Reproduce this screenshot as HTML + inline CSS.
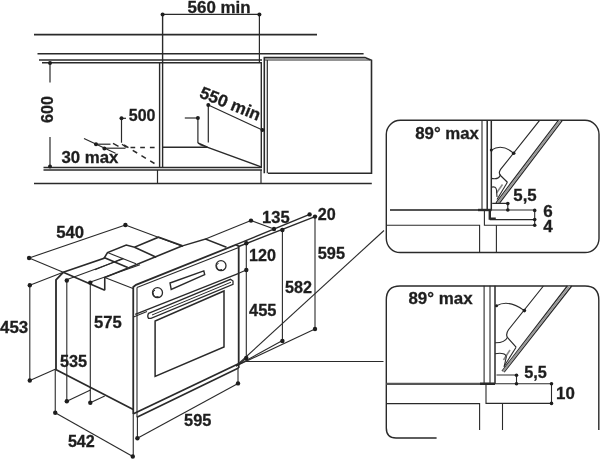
<!DOCTYPE html>
<html><head><meta charset="utf-8">
<style>
html,body{margin:0;padding:0;background:#fff;width:600px;height:459px;overflow:hidden}
svg{display:block;will-change:transform}
text{font-family:"Liberation Sans",sans-serif;font-weight:bold;fill:#1e1e1e;stroke:#1e1e1e;stroke-width:0.3}
</style></head><body>
<svg width="600" height="459" viewBox="0 0 600 459">
<g fill="none" stroke="#2a2a2a" stroke-width="1.2" stroke-linecap="butt">
<!-- ===== TOP SECTION ===== -->
<line x1="34" y1="34.6" x2="317" y2="34.6" stroke-width="1.6"/>
<line x1="37.5" y1="53.7" x2="363.6" y2="53.7" stroke-width="1.6"/>
<line x1="39" y1="60" x2="262" y2="60" stroke-width="1.4"/>
<line x1="42" y1="62.8" x2="262" y2="62.8" stroke-width="1.4"/>
<line x1="43.5" y1="167.5" x2="262" y2="167.5" stroke-width="1.4"/>
<line x1="43.5" y1="170" x2="262" y2="170" stroke-width="1.4"/>
<line x1="34" y1="183.5" x2="371.8" y2="183.5" stroke-width="1.6"/>
<line x1="157.5" y1="170" x2="157.5" y2="183.5"/>
<line x1="261" y1="170" x2="261" y2="183.5"/>
<!-- dividers -->
<line x1="159.6" y1="62.8" x2="159.6" y2="167.5" stroke-width="1.4"/>
<line x1="162.6" y1="14.4" x2="162.6" y2="167.5" stroke-width="1.4"/>
<line x1="261.3" y1="62.8" x2="261.3" y2="167.5" stroke-width="1.4"/>
<line x1="259.4" y1="14.4" x2="259.4" y2="62.8"/>
<!-- 560 min dim -->
<line x1="162.6" y1="14.4" x2="259.4" y2="14.4"/>
<!-- right door panel -->
<path d="M264.3 173.3 V57.6 H365 L371.5 60.3 V173.3 H268" stroke-width="1.6"/>
<line x1="267.3" y1="60" x2="267.3" y2="173.3" stroke-width="1.2"/>
<line x1="264.3" y1="60" x2="370" y2="60" stroke-width="1.2"/>
<!-- 600 dim -->
<line x1="50" y1="63" x2="50" y2="82.5"/>
<line x1="50" y1="137" x2="50" y2="166.5"/>
<!-- 500 -->
<line x1="121.5" y1="118.3" x2="126" y2="118.3"/>
<line x1="121.5" y1="118.3" x2="121.5" y2="142.7"/>
<line x1="84" y1="138.5" x2="115.5" y2="153.3"/>
<line x1="96" y1="144.2" x2="110.5" y2="144.2"/>
<line x1="104.4" y1="148.2" x2="125.5" y2="148.2"/>
<line x1="130.5" y1="147.5" x2="155.5" y2="147.5" stroke-dasharray="4.7 5" stroke-width="1.5"/>
<path d="M113 143.3 L118.5 146.3 M122 144.3 L126.5 147.5" stroke-width="1.4"/>
<line x1="124" y1="145" x2="154.5" y2="163.5" stroke-dasharray="5.2 5" stroke-width="1.5"/>
<line x1="162.6" y1="147.2" x2="207.5" y2="147.2" stroke-width="1.4"/>
<!-- 550 min -->
<line x1="208.3" y1="105" x2="262.4" y2="130"/>
<line x1="208.3" y1="105" x2="208.3" y2="142.5"/>
<line x1="184.8" y1="118" x2="197.9" y2="118"/>
<line x1="197.9" y1="118" x2="197.9" y2="143"/>
<path d="M197.9 143 L207.5 147.2 M199.5 144.3 L261 166.8" stroke-width="1.4"/>
</g>
<g fill="#1e1e1e">
<circle cx="162.6" cy="14.4" r="2"/><circle cx="259.4" cy="14.4" r="2"/>
<circle cx="50" cy="63" r="2"/><circle cx="50" cy="166.5" r="2"/>
<circle cx="121.5" cy="118.3" r="2"/>
<circle cx="96" cy="144.2" r="2"/><circle cx="104.4" cy="148.4" r="2"/>
<circle cx="208.3" cy="105" r="2"/><circle cx="262.4" cy="130" r="2"/>
<circle cx="197.9" cy="118" r="2"/>
</g>
<text x="187.6" y="12.7" font-size="17" textLength="63" lengthAdjust="spacingAndGlyphs">560 min</text>
<text x="128.8" y="120.6" font-size="17" textLength="26.7" lengthAdjust="spacingAndGlyphs">500</text>
<text x="61.4" y="162.6" font-size="17" textLength="57" lengthAdjust="spacingAndGlyphs">30 max</text>
<text transform="translate(52.6,123) rotate(-90)" font-size="17.2" textLength="27" lengthAdjust="spacingAndGlyphs">600</text>
<text transform="translate(198.5,97) rotate(22)" font-size="17" textLength="64" lengthAdjust="spacingAndGlyphs">550 min</text>

<!-- ===== INSET 1 ===== -->
<g fill="none" stroke="#2a2a2a" stroke-width="1.4">
<rect x="386.3" y="120.3" width="212.7" height="132.2" rx="14" ry="14"/>
</g>

<g fill="none" stroke="#2a2a2a" stroke-width="1.1">
<!-- walls -->
<line x1="482" y1="120.3" x2="482" y2="210"/>
<line x1="487.2" y1="120.3" x2="487.2" y2="210" stroke-width="1.5"/>
<line x1="491.3" y1="120.3" x2="491.3" y2="210" stroke-width="1.5"/>
<!-- door -->
<path d="M539.6 120.3 L500.4 169.7 Q498 173.5 501 176 L507.4 182.3" stroke-width="1.2"/>
<path d="M558.4 120.3 L496 202.8 M562.3 120.3 L499.5 203 " stroke-width="1.3"/>
<path d="M560.3 120.3 L497.8 202.9" stroke="#999" stroke-width="2"/>
<path d="M491.3 150.1 Q502 143 513.7 153.3"/>
<path d="M491.3 178.4 Q499 180 500.5 174.5"/>
<path d="M507.4 182.3 L497 199.5" stroke-width="1.1"/><path d="M502.5 184.5 L496.5 193" stroke="#888" stroke-width="1.6"/>
<path d="M491.3 187.2 Q496 186 496.5 190 L497 197"/>
<!-- base -->
<line x1="390" y1="210" x2="491.6" y2="210" stroke-width="2.2" stroke="#555"/><line x1="478" y1="210" x2="491.6" y2="210" stroke-width="2.4"/>
<line x1="491.6" y1="210" x2="535.3" y2="210"/>
<path d="M489.8 210 V218.6 H495.8" stroke-width="2.4"/>
<line x1="489.8" y1="219.6" x2="535.3" y2="219.6"/>
<path d="M484.4 210 V225.3 H535.3"/>
<path d="M386.3 225.3 H479.6 V252.5"/>
<line x1="496.4" y1="225.3" x2="496.4" y2="252.5"/>
<path d="M492.2 203.4 H507.8 V210"/>
<line x1="534.7" y1="210" x2="534.7" y2="225.3"/>
</g>
<g fill="#1e1e1e">
<circle cx="513.7" cy="153.3" r="1.8"/><circle cx="491.3" cy="150.1" r="1.5"/>
<circle cx="507.8" cy="203.6" r="1.8"/><circle cx="507.8" cy="210" r="1.8"/>
<circle cx="534.7" cy="210.4" r="1.8"/><circle cx="534.7" cy="219.6" r="1.8"/><circle cx="534.7" cy="225.3" r="1.8"/>
</g>
<text x="415.2" y="139.3" font-size="17" textLength="63.8" lengthAdjust="spacingAndGlyphs">89° max</text>
<text x="513.3" y="200.8" font-size="17" textLength="23.4" lengthAdjust="spacingAndGlyphs">5,5</text>
<text x="543.3" y="216.5" font-size="17">6</text>
<text x="543.3" y="231.5" font-size="17">4</text>

<!-- ===== INSET 2 ===== -->
<g fill="none" stroke="#2a2a2a" stroke-width="1.4">
<path d="M386.3 300 Q386.3 286 400 286 H585 Q598.8 286 598.8 300 V430"/>
<path d="M386.3 300 V428 Q386.3 438 396 438 H436.6"/>
</g>

<g fill="none" stroke="#2a2a2a" stroke-width="1.1">
<line x1="484.1" y1="285.7" x2="484.1" y2="383.8"/>
<line x1="490" y1="285.7" x2="490" y2="383.8"/>
<line x1="495" y1="285.7" x2="495" y2="383.8" stroke-width="1.5"/>
<path d="M543.4 286 L508.5 329.75 Q505.5 334 507.4 337.4 L516.1 347.2" stroke-width="1.2"/>
<path d="M567.3 286 L502 371.1 M571.7 286 L504.1 372.2" stroke-width="1.3"/>
<path d="M569.5 286 L503 371.6" stroke="#999" stroke-width="2"/>
<path d="M496.5 305.8 Q508.5 299 524.4 310.6"/>
<path d="M495 342.8 Q505 343 507.4 337.4"/>
<path d="M516.1 347.2 L504 366.5" stroke-width="1.1"/><path d="M510 350 L503.5 360" stroke="#888" stroke-width="1.6"/>
<path d="M495 353.7 Q506 352 506.3 357 L504.1 366.8"/>
<line x1="386.3" y1="383.8" x2="495" y2="383.8" stroke-width="2.2" stroke="#555"/><line x1="480" y1="383.8" x2="495" y2="383.8" stroke-width="2.4"/>
<line x1="495" y1="383.8" x2="551.5" y2="383.8"/>
<path d="M496.5 375 H516.5 V383.8"/>
<path d="M486 383.8 V403.4 H551.5"/>
<line x1="551.5" y1="383.8" x2="551.5" y2="403.4"/>
<path d="M386.3 403.6 H479.6 V430"/>
<line x1="502.5" y1="403.4" x2="502.5" y2="430"/>
</g>
<g fill="#1e1e1e">
<circle cx="524.4" cy="310.6" r="1.8"/><circle cx="496.5" cy="305.8" r="1.5"/>
<circle cx="516.5" cy="375.2" r="1.8"/><circle cx="516.5" cy="383.8" r="1.8"/>
<circle cx="551.5" cy="383.8" r="1.8"/><circle cx="551.5" cy="403.4" r="1.8"/>
</g>
<text x="408.4" y="304.4" font-size="17" textLength="64.2" lengthAdjust="spacingAndGlyphs">89° max</text>
<text x="524.2" y="378.2" font-size="17" textLength="22.6" lengthAdjust="spacingAndGlyphs">5,5</text>
<text x="556" y="398.5" font-size="17" textLength="18.8" lengthAdjust="spacingAndGlyphs">10</text>


<!-- ===== OVEN ===== -->
<g fill="none" stroke="#2a2a2a" stroke-width="1.1">
<!-- 540 dim -->
<line x1="29.1" y1="258" x2="125.4" y2="225"/>
<line x1="29.1" y1="258" x2="63.2" y2="272.3"/><line x1="63.2" y1="272.3" x2="104.75" y2="290.25" stroke-width="1.6"/>
<line x1="125.4" y1="225" x2="183" y2="246.5"/>
<!-- 453 dim -->
<line x1="29.8" y1="285.3" x2="29.8" y2="380.5"/>
<line x1="29.8" y1="285.3" x2="63.2" y2="272.3"/>
<line x1="29.8" y1="380.5" x2="55.25" y2="369.3"/>
<!-- 535 / 575 dims -->
<line x1="66.8" y1="280.5" x2="66.8" y2="401.3"/>
<line x1="66.8" y1="401.3" x2="90.5" y2="390"/>
<line x1="90.3" y1="282.6" x2="90.3" y2="402.8"/>
<line x1="90.3" y1="402.8" x2="104.75" y2="396"/>
<!-- 542 -->
<line x1="55.25" y1="369.3" x2="55.25" y2="412.8"/>
<line x1="55.25" y1="412.8" x2="132.8" y2="456.5"/>
<line x1="133.25" y1="414" x2="133.25" y2="456.5"/>
<!-- side wall -->
<path d="M56 300 V279.75 L63.2 272.3" stroke-width="1.8"/>
<line x1="56" y1="300" x2="56" y2="369.3" stroke-width="1.8"/>
<line x1="55.25" y1="369.3" x2="133.25" y2="409.5" stroke-width="1.8"/>
<path d="M104.75 290.25 V277.5 L182.5 245.8" stroke-width="1.6"/>
<line x1="104.75" y1="277.5" x2="133" y2="288.5"/>
<line x1="66.5" y1="279.8" x2="123.5" y2="258.8"/>
<line x1="90.5" y1="282" x2="140" y2="264.8"/>
<!-- bracket -->
<path d="M63.2 272.3 L104 258.3 L107.5 252.6 L126.25 245 L134.5 247.25 L158.5 237.2 L182.5 245.8" stroke-width="1.6"/>
<line x1="134.5" y1="247.25" x2="156.25" y2="257.2" stroke-width="1.6"/>
<path d="M104 258.3 L104.5 257.75 L127.75 267.5" stroke-width="1.6"/>
<line x1="107.5" y1="252.6" x2="136" y2="263.75"/>
<line x1="95" y1="269.7" x2="123" y2="258.3"/>
<!-- top back -->
<path d="M182.5 245.8 L205.5 239 L226.5 247.25" stroke-width="1.4"/>
<line x1="205.5" y1="239" x2="251" y2="220.6"/>
<line x1="251" y1="220.6" x2="274" y2="229"/>
<!-- front panel -->
<path d="M133.25 414 V287 L136 284.8 L236 244.7 L238.7 246.2 V368" stroke-width="1.8"/>
<line x1="137" y1="287.5" x2="238.7" y2="247.5" stroke-width="1.1"/>
<line x1="137" y1="287.5" x2="137" y2="417.2"/>
<line x1="135.2" y1="314.4" x2="238.7" y2="273.3" stroke-width="1.4"/>
<line x1="133.5" y1="317" x2="147" y2="311.6" stroke-width="1.1"/>
<line x1="133.5" y1="413.8" x2="238.5" y2="363.7" stroke-width="1.8"/>
<line x1="136.9" y1="417.2" x2="238.5" y2="368" stroke-width="1.6"/>
<circle cx="157.5" cy="292.7" r="5" stroke-width="1.3"/><path d="M158.5 296.5 A3.6 3.6 0 0 1 155 290" stroke-width="1"/>
<circle cx="221" cy="265.7" r="5" stroke-width="1.3"/><path d="M222 269.5 A3.6 3.6 0 0 1 218.5 263" stroke-width="1"/>
<path d="M170 283 L203.8 270.9 L204.7 274.7 L171.2 289.4 Z" stroke-width="1.4"/>
<path d="M148.5 313.3 L230.5 279.3 L233 281 L233 284.3 L151 318.3 L148.5 318.3 Q147 316.5 148.5 313.3 Z" stroke-width="1.3"/>
<path d="M152 315 L231 282.2" stroke-width="1"/>
<path d="M155.1 376.4 V321 L224 291 V347 Z" stroke-width="1.5"/>
<!-- right dims -->
<line x1="246.3" y1="243.3" x2="246.3" y2="358"/>
<line x1="282.4" y1="230" x2="282.4" y2="341"/>
<line x1="315" y1="216.6" x2="315" y2="329"/>
<line x1="236" y1="244.7" x2="309.6" y2="214.4" stroke-width="1.4"/>
<line x1="238.7" y1="246.5" x2="315" y2="216.6" stroke-width="1.4"/>
<line x1="238.7" y1="273.3" x2="246.3" y2="270"/>
<line x1="238" y1="365" x2="246.3" y2="358"/>
<line x1="236" y1="366" x2="281.6" y2="341"/>
<line x1="236" y1="366" x2="315" y2="329"/>
<line x1="236" y1="366" x2="384" y2="230.5"/>
<line x1="246" y1="361.5" x2="383.5" y2="361.5"/>
<line x1="137.4" y1="417" x2="137.4" y2="438.2"/>
<line x1="238" y1="368" x2="238" y2="383.4"/>
<line x1="137.4" y1="438.2" x2="238" y2="383.4"/>
</g>
<g fill="#1e1e1e">
<circle cx="29.1" cy="258" r="2.2"/><circle cx="125.4" cy="225" r="2.2"/>
<circle cx="29.8" cy="285.3" r="2.2"/><circle cx="29.8" cy="380.5" r="2.2"/>
<circle cx="66.8" cy="280.5" r="2.2"/><circle cx="66.8" cy="401.3" r="2.2"/>
<circle cx="90.3" cy="282.6" r="2.2"/><circle cx="90.3" cy="402.8" r="2.2"/>
<circle cx="55.25" cy="412.8" r="2.2"/><circle cx="132.8" cy="456.5" r="2.2"/>
<circle cx="137.4" cy="438.2" r="2.2"/><circle cx="238" cy="383.4" r="2.2"/>
<circle cx="246.3" cy="243.3" r="2.2"/><circle cx="246.3" cy="270" r="2.2"/><circle cx="246.3" cy="358" r="2.2"/>
<circle cx="282.4" cy="230" r="2.2"/><circle cx="282.4" cy="341" r="2.2"/>
<circle cx="315" cy="216.6" r="2.2"/><circle cx="315" cy="329" r="2.2"/>
<circle cx="309.6" cy="214.4" r="2.2"/>
<circle cx="251" cy="220.6" r="2.2"/><circle cx="274" cy="229" r="2.2"/>
</g>
<!-- ===== OVEN texts ===== -->
<text x="56.2" y="237.9" font-size="17" textLength="27.9" lengthAdjust="spacingAndGlyphs">540</text>
<text x="262" y="223" font-size="17" textLength="27.6" lengthAdjust="spacingAndGlyphs">135</text>
<text x="317.8" y="219.6" font-size="17" textLength="18" lengthAdjust="spacingAndGlyphs">20</text>
<text x="249" y="261" font-size="17" textLength="27" lengthAdjust="spacingAndGlyphs">120</text>
<text x="317.8" y="258.8" font-size="17" textLength="27.2" lengthAdjust="spacingAndGlyphs">595</text>
<text x="285" y="293" font-size="17" textLength="27" lengthAdjust="spacingAndGlyphs">582</text>
<text x="249" y="316" font-size="17" textLength="27.4" lengthAdjust="spacingAndGlyphs">455</text>
<text x="94" y="328.4" font-size="17" textLength="27.8" lengthAdjust="spacingAndGlyphs">575</text>
<text x="0" y="333.2" font-size="17" textLength="28.3" lengthAdjust="spacingAndGlyphs">453</text>
<text x="59.9" y="366.9" font-size="17" textLength="27.2" lengthAdjust="spacingAndGlyphs">535</text>
<text x="184.1" y="425.6" font-size="17" textLength="27.3" lengthAdjust="spacingAndGlyphs">595</text>
<text x="67.9" y="447.3" font-size="17" textLength="26.9" lengthAdjust="spacingAndGlyphs">542</text>
</svg>
</body></html>
